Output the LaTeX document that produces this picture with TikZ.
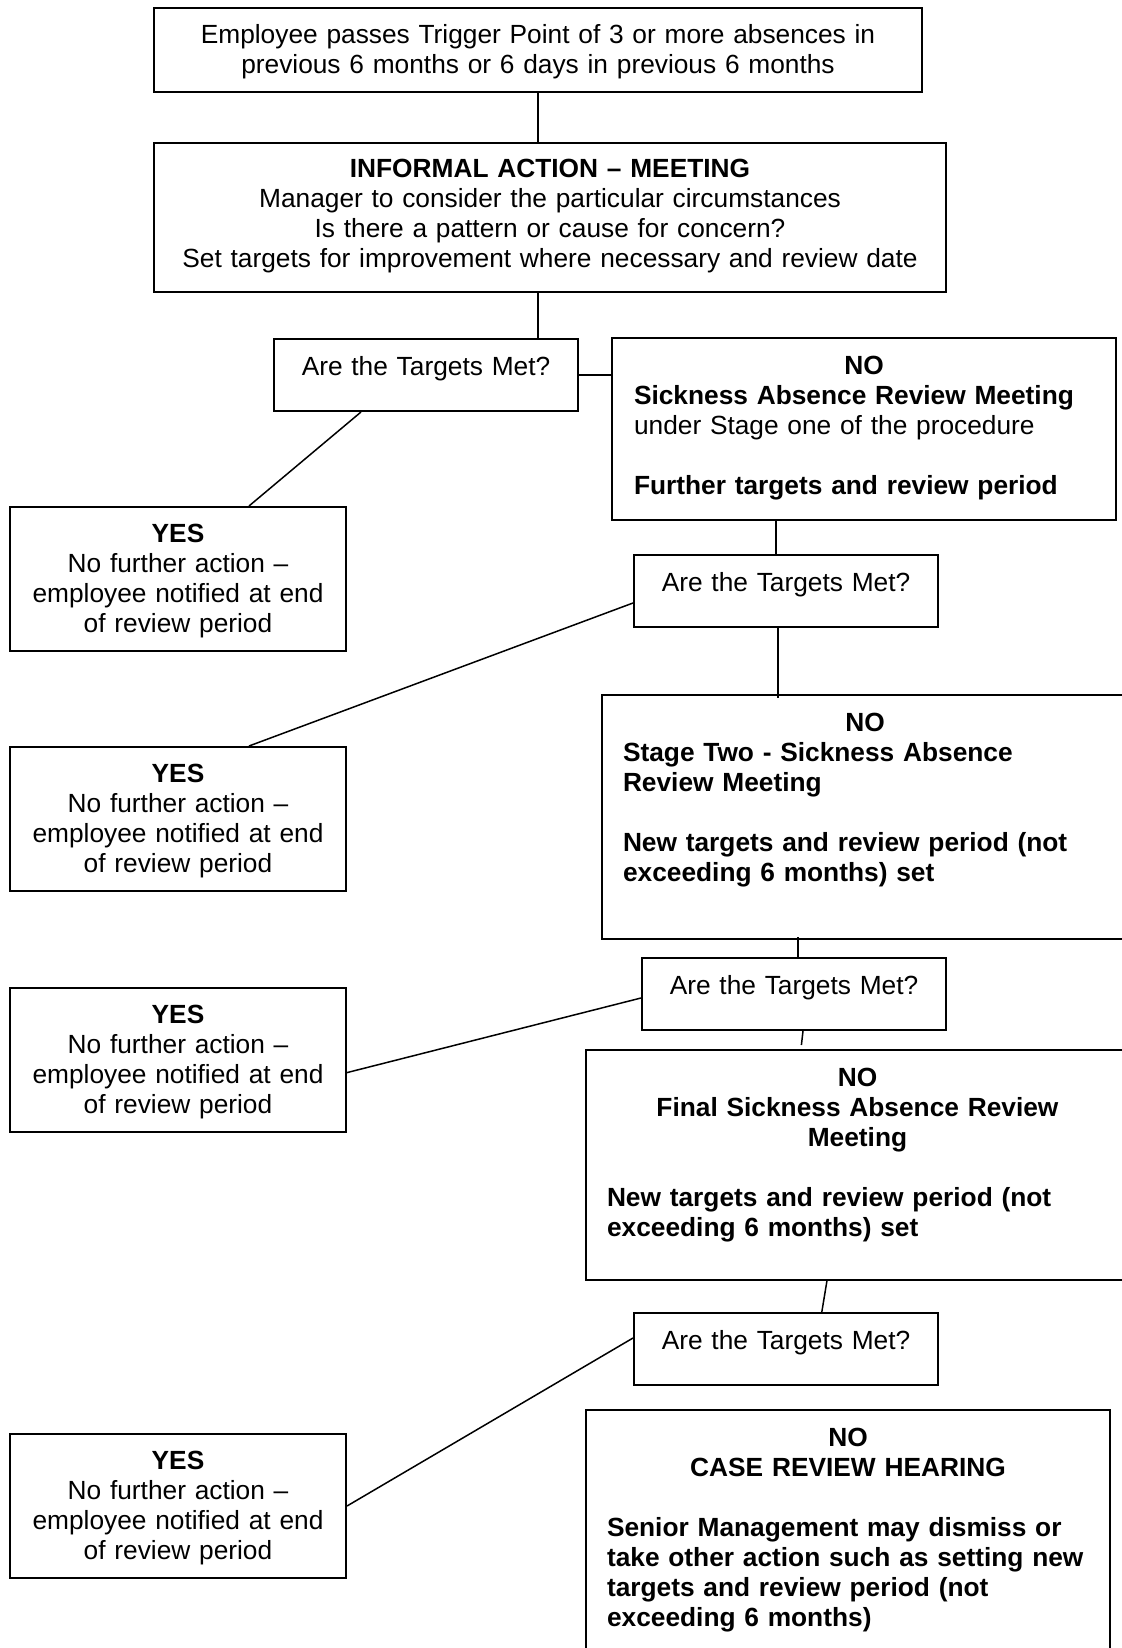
\documentclass[tikz,border=0pt]{standalone}
\usepackage{fontspec}
\setmainfont{Liberation Sans}
\newcommand\flowfont{\fontsize{13.15pt}{15pt}\selectfont}
\newcommand\ctrline[1]{\makebox[\linewidth]{#1}}
\tikzset{
  flowbox/.style={draw, line width=1pt, inner ysep=0pt, anchor=north west, font=\flowfont},
  qbox/.style={flowbox, inner xsep=5pt, text width=142pt, align=center, text height=18pt, text depth=18pt},
  yesbox/.style={flowbox, inner xsep=5pt, text width=158pt, align=center, text height=17.5pt, text depth=54.5pt},
  nobox/.style={flowbox, inner xsep=10.5pt, align=left, text height=18pt},
  link/.style={line width=0.75pt},
}
\begin{document}
\begin{tikzpicture}[x=0.5pt,y=-0.5pt]
  \useasboundingbox (0,0) rectangle (1122,1648);
  \clip (0,0) rectangle (1122,1648);
  % top of the procedure
  \node[flowbox, inner xsep=5pt, text width=374pt, align=center, text height=18pt, text depth=24pt] (trig) at (153,7)
    {Employee passes Trigger Point of 3 or more absences in\\previous 6 months or 6 days in previous 6 months};
  \node[flowbox, inner xsep=5pt, text width=386pt, align=center, text height=17.5pt, text depth=57pt] (info) at (153,142)
    {\textbf{INFORMAL ACTION -- MEETING}\\Manager to consider the particular circumstances\\Is there a pattern or cause for concern?\\Set targets for improvement where necessary and review date};
  % questions and yes outcomes
  \foreach \n/\x/\y in {1/273/338,2/633/554,3/641/957,4/633/1312}
    \node[qbox] (q\n) at (\x,\y) {Are the Targets Met?};
  \foreach \n/\y in {1/506,2/746,3/987,4/1433}
    \node[yesbox] (yes\n) at (9,\y) {\textbf{YES}\\No further action --\\employee notified at end\\of review period};
  % no outcomes
  \node[nobox, inner xsep=11pt, text width=230pt, text depth=72.75pt] (no1) at (611,337)
    {\ctrline{\textbf{NO}}\\\textbf{Sickness Absence Review Meeting}\\under Stage one of the procedure\\[15pt]\textbf{Further targets and review period}};
  \node[nobox, text width=242pt, text depth=104pt] (no2) at (601,694)
    {\ctrline{\textbf{NO}}\\\textbf{Stage Two - Sickness Absence}\\\textbf{Review Meeting}\\[15pt]\textbf{New targets and review period (not}\\\textbf{exceeding 6 months) set}};
  \node[nobox, text width=250.5pt, text depth=96.75pt] (no3) at (585,1049)
    {\ctrline{\textbf{NO}}\\\ctrline{\textbf{Final Sickness Absence Review}}\\\ctrline{\textbf{Meeting}}\\[15pt]\textbf{New targets and review period (not}\\\textbf{exceeding 6 months) set}};
  \node[nobox, text width=241pt, text depth=130pt] (no4) at (585,1409)
    {\ctrline{\textbf{NO}}\\\ctrline{\textbf{CASE REVIEW HEARING}}\\[15pt]\textbf{Senior Management may dismiss or}\\\textbf{take other action such as setting new}\\\textbf{targets and review period (not}\\\textbf{exceeding 6 months)}};
  % connectors
  \draw[link] (trig.south) -- (trig.south |- info.north);
  \draw[link] (trig.south |- info.south) -- (trig.south |- q1.north);
  \draw[link] (q1.east) -- (q1.east -| no1.west);
  \draw[link] ([xshift=44pt]q1.south west) -- ([xshift=120pt]yes1.north west);
  \draw[link] ([xshift=-5pt]q2.north |- no1.south) -- ([xshift=-5pt]q2.north);
  \draw[link] ([yshift=-6pt]q2.west) -- ([xshift=120pt]yes2.north west);
  \draw[link] ([xshift=-4pt]q2.south) -- ([xshift=-4pt,yshift=-2pt]q2.south |- no2.north);
  \draw[link] ([xshift=2pt,yshift=1.5pt]q3.north |- no2.south) -- ([xshift=2pt]q3.north);
  \draw[link] ([yshift=-2pt]q3.west) -- ([yshift=-6.3pt]yes3.east);
  \draw[link] ([xshift=4.5pt]q3.south) -- ([xshift=3.7pt,yshift=2pt]q3.south |- no3.north);
  \draw[link] ([xshift=-15.25pt]no3.south) -- ([xshift=17.9pt]q4.north);
  \draw[link] ([yshift=5.5pt]q4.west) -- (yes4.east);
\end{tikzpicture}
\end{document}
